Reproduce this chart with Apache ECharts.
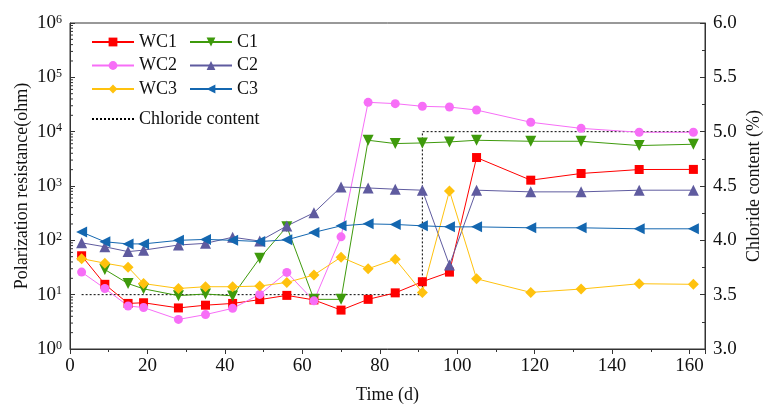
<!DOCTYPE html>
<html>
<head>
<meta charset="utf-8">
<script src="https://cdn.jsdelivr.net/npm/echarts@6/dist/echarts.min.js"></script>
<style>html,body{margin:0;padding:0;background:#fff;}#c{width:768px;height:416px;}</style>
</head>
<body>
<div id="c"></div>
<script>
const days = [3, 9, 15, 19, 28, 35, 42, 49, 56, 63, 70, 77, 84, 91, 98, 105, 119, 132, 147, 161];
const WC1 = [52, 15.5, 6.9, 7.1, 5.7, 6.4, 6.9, 8.1, 9.7, 8.0, 5.2, 8.2, 10.8, 17.3, 26, 3340, 1280, 1700, 2010, 2020];
const WC2 = [26, 13, 6.2, 5.8, 3.5, 4.3, 5.6, 10.1, 25.7, 7.7, 116, 34700, 32800, 29300, 28400, 25000, 14900, 11500, 9750, 9750];
const WC3 = [46, 38, 32, 16, 13, 14, 14, 14.4, 16.8, 23, 49, 30, 45, 11, 813, 19.6, 11, 12.7, 15.9, 15.5];
const C1 = [null, 29, 16, 12.8, 9.6, 10.3, 9.5, 47, 178, 8.2, 8.2, 6950, 6040, 6200, 6470, 6950, 6660, 6660, 5550, 5870];
const C2 = [90, 76, 62, 66, 82, 88, 114, 97, 184, 322, 960, 920, 873, 837, 35, 837, 780, 780, 837, 837];
const C3 = [142, 94, 86, 86, 100, 104, 100, 95, 102, 140, 185, 201, 196, 185, 177, 177, 170, 170, 163, 163];
const chlorideDays = [3, 91, 91, 161];
const chlorideValues = [3.5, 3.5, 5.0, 5.0];
const xTicks = [0, 20, 40, 60, 80, 100, 120, 140, 160];

const FONT = '"Liberation Serif", "Times New Roman", serif';
const AXC = '#333';

function pairs(xs, ys) { return xs.map((x, i) => [x, ys[i]]); }

// log minor tick positions (2..9 x 10^k)
const minorLog = [];
for (let k = 0; k < 6; k++) for (let m = 2; m <= 9; m++) minorLog.push([0, m * Math.pow(10, k)]);

const seriesDefs = [
  {name: 'WC1', data: WC1, color: '#FF0000', symbol: 'rect', size: 9, rot: 0},
  {name: 'C1', data: C1, color: '#3E9A0C', symbol: 'triangle', size: 11, rot: 180},
  {name: 'WC2', data: WC2, color: '#F76EF7', symbol: 'circle', size: 9, rot: 0},
  {name: 'C2', data: C2, color: '#5F5B9F', symbol: 'triangle', size: 11, rot: 0},
  {name: 'WC3', data: WC3, color: '#FFC20E', symbol: 'diamond', size: 11, rot: 0},
  {name: 'C3', data: C3, color: '#1467B0', symbol: 'triangle', size: 11, rot: 90}
];

const series = [{
  name: 'Chloride content', type: 'line', yAxisIndex: 1, symbol: 'none',
  data: pairs(chlorideDays, chlorideValues),
  lineStyle: {color: '#000', width: 1, type: [2, 2]}, itemStyle: {color: '#000'}, z: 1
}];
seriesDefs.forEach(s => {
  series.push({
    name: s.name, type: 'line', yAxisIndex: 0,
    data: pairs(days, s.data).filter(p => p[1] != null),
    symbol: s.symbol, symbolSize: s.size, symbolRotate: s.rot, showSymbol: true,
    itemStyle: {color: s.color}, lineStyle: {color: s.color, width: 1}, z: 3
  });
});
series.push({
  type: 'custom', yAxisIndex: 0, data: minorLog, silent: true, z: 5,
  renderItem: function (params, api) {
    const p = api.coord([api.value(0), api.value(1)]);
    return {type: 'line', shape: {x1: p[0], y1: p[1], x2: p[0] + 3, y2: p[1]}, style: {stroke: AXC, lineWidth: 1}};
  }
});

const legendText = {fontFamily: FONT, fontSize: 18, color: '#111', lineHeight: 18};
const chart = echarts.init(document.getElementById('c'));
chart.setOption({
  animation: false,
  backgroundColor: '#fff',
  grid: {left: 70, right: 63, top: 23, bottom: 67, show: true, borderColor: AXC, borderWidth: 1,
    containLabel: false, outerBoundsMode: 'none'},
  legend: [
    {data: ['WC1', 'WC2', 'WC3'], orient: 'vertical', left: 86, top: 28, itemWidth: 42, itemHeight: 11, itemGap: 5.5, textStyle: legendText},
    {data: ['C1', 'C2', 'C3'], orient: 'vertical', left: 184, top: 28, itemWidth: 42, itemHeight: 11, itemGap: 5.5, textStyle: legendText},
    {data: [{name: 'Chloride content', itemStyle: {opacity: 0}}], orient: 'vertical', left: 86, top: 105, itemWidth: 42, itemHeight: 11, textStyle: legendText}
  ],
  xAxis: {
    type: 'value', min: 0, max: 164, interval: 20,
    name: 'Time (d)', nameLocation: 'middle', nameGap: 37, nameMoveOverlap: false,
    nameTextStyle: {fontFamily: FONT, fontSize: 18, color: '#111'},
    axisLine: {lineStyle: {color: AXC}},
    axisTick: {show: true, inside: false, length: 5, lineStyle: {color: AXC}},
    minorTick: {show: true, splitNumber: 2, length: 3, lineStyle: {color: AXC}},
    axisLabel: {fontFamily: FONT, fontSize: 19, color: '#111', margin: 8, showMaxLabel: false,
      formatter: v => (xTicks.indexOf(v) >= 0 ? String(v) : '')},
    splitLine: {show: false}
  },
  yAxis: [{
    type: 'log', logBase: 10, min: 1, max: 1e6,
    name: 'Polarization resistance(ohm)', nameLocation: 'middle', nameGap: 39, nameMoveOverlap: false,
    nameTextStyle: {fontFamily: FONT, fontSize: 18, color: '#111'},
    axisLine: {show: true, lineStyle: {color: AXC}},
    axisTick: {show: true, inside: true, length: 5, lineStyle: {color: AXC}},
    axisLabel: {fontFamily: FONT, fontSize: 19, color: '#111', margin: 8,
      formatter: v => '10{s|' + Math.round(Math.log10(v)) + '}',
      rich: {s: {fontFamily: FONT, fontSize: 12, color: '#111', verticalAlign: 'top', padding: [0, 0, 7, 0]}}},
    splitLine: {show: false}
  }, {
    type: 'value', min: 3, max: 6, interval: 0.5, position: 'right',
    name: 'Chloride content (%)', nameLocation: 'middle', nameGap: 40, nameRotate: 90, nameMoveOverlap: false,
    nameTextStyle: {fontFamily: FONT, fontSize: 18, color: '#111'},
    axisLine: {show: true, lineStyle: {color: AXC}},
    axisTick: {show: true, inside: true, length: 5, lineStyle: {color: AXC}},
    minorTick: {show: true, splitNumber: 2, length: 3, lineStyle: {color: AXC}},
    axisLabel: {fontFamily: FONT, fontSize: 19, color: '#111', margin: 8, formatter: v => v.toFixed(1)},
    splitLine: {show: false}
  }],
  series: series
});
</script>
</body>
</html>
